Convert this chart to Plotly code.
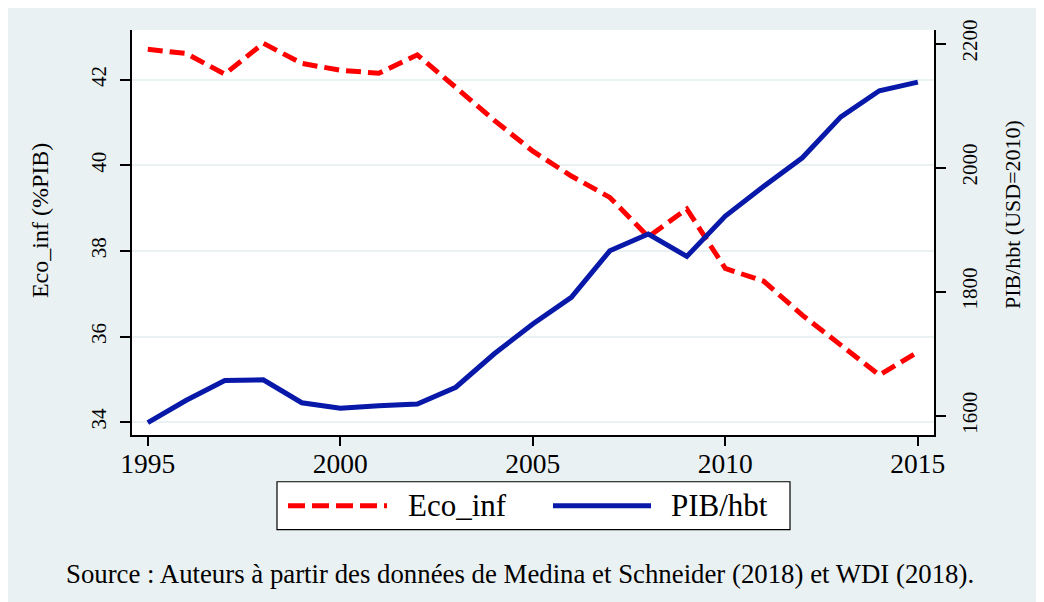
import plotly.graph_objects as go

years = list(range(1995, 2016))
eco_inf = [42.71, 42.61, 42.13, 42.85, 42.38, 42.22, 42.15, 42.58, 41.82, 41.05,
           40.33, 39.75, 39.25, 38.33, 38.98, 37.59, 37.29, 36.50, 35.80, 35.10, 35.64]
pib_hbt = [1589, 1625, 1657, 1658, 1621, 1612, 1616, 1619, 1646, 1700,
           1748, 1791, 1866, 1893, 1857, 1922, 1970, 2016, 2082, 2124, 2138]

name_eco = "Eco_inf"
name_pib = "PIB/hbt"
left_title = "Eco_inf (%PIB)"
right_title = "PIB/hbt (USD=2010)"
source_text = "Source : Auteurs à partir des données de Medina et Schneider (2018) et WDI (2018)."
left_ticks = [34, 36, 38, 40, 42]
right_ticks = [1600, 1800, 2000, 2200]
x_ticks = [1995, 2000, 2005, 2010, 2015]

RED = "#ff0000"
BLUE = "#0818a8"
BG = "#eaf1f3"
FONT = "Liberation Serif"

# the figure is placed at page offset (8, 8); coordinates below are page pixels
OFF = 8
W, H = 1044 - OFF, 602 - OFF
L, R, T, B = 132 - OFF, 934 - OFF, 28 - OFF, 435 - OFF
def px(x):
    return (x - OFF - L) / (R - L)
def py(y):
    return (B - (y - OFF)) / (B - T)

fig = go.Figure()
fig.add_trace(go.Scatter(x=years, y=eco_inf, name=name_eco, mode="lines",
                         line=dict(color=RED, width=5, dash="15px,7px"),
                         showlegend=False))
fig.add_trace(go.Scatter(x=years, y=pib_hbt, name=name_pib, mode="lines", yaxis="y2",
                         line=dict(color=BLUE, width=5),
                         showlegend=False))

shapes = [
    # legend box
    dict(type="rect", xref="paper", yref="paper", x0=px(277), x1=px(790), y0=py(530), y1=py(482),
         fillcolor="white", line=dict(color="black", width=1.2)),
    dict(type="line", xref="paper", yref="paper", x0=px(288), x1=px(387), y0=py(506), y1=py(506),
         line=dict(color=RED, width=5, dash="17px,7px")),
    dict(type="line", xref="paper", yref="paper", x0=px(553), x1=px(651), y0=py(506), y1=py(506),
         line=dict(color=BLUE, width=5)),
]

annotations = [
    dict(text=left_title, xref="paper", yref="paper", x=px(40), y=py(220), showarrow=False,
         textangle=-90, font=dict(family=FONT, size=24, color="black"),
         xanchor="center", yanchor="middle"),
    dict(text=right_title, xref="paper", yref="paper", x=px(1012), y=py(214), showarrow=False,
         textangle=-90, font=dict(family=FONT, size=22, color="black"),
         xanchor="center", yanchor="middle"),
    dict(text=name_eco, xref="paper", yref="paper", x=px(406), y=py(506), showarrow=False,
         font=dict(family=FONT, size=31, color="black"), xanchor="left", yanchor="middle"),
    dict(text=name_pib, xref="paper", yref="paper", x=px(669), y=py(506), showarrow=False,
         font=dict(family=FONT, size=31, color="black"), xanchor="left", yanchor="middle"),
    dict(text=source_text, xref="paper", yref="paper", x=px(520), y=py(575), showarrow=False,
         font=dict(family=FONT, size=26.8, color="black"), xanchor="center", yanchor="middle"),
]

fig.update_layout(
    width=W, height=H,
    margin=dict(l=L, r=W - R, t=T, b=H - B),
    paper_bgcolor=BG, plot_bgcolor="white",
    font=dict(family=FONT, color="black"),
    showlegend=False,
    shapes=shapes, annotations=annotations,
    xaxis=dict(range=[1994.59, 2015.42], tickvals=x_ticks, showgrid=False, zeroline=False,
               showline=True, linecolor="black", linewidth=1.5,
               ticks="outside", ticklen=9, tickwidth=1.5, tickcolor="black",
               tickfont=dict(family=FONT, size=27.5), ticklabelstandoff=-6),
    yaxis=dict(range=[33.70, 43.16], tickvals=left_ticks, showgrid=True, gridcolor=BG, gridwidth=2,
               zeroline=False, showline=True, linecolor="black", linewidth=1.5,
               ticks="outside", ticklen=10, tickwidth=1.5, tickcolor="black",
               tickangle=-90, tickfont=dict(family=FONT, size=21), ticklabelstandoff=6),
    yaxis2=dict(range=[1569, 2222], tickvals=right_ticks, overlaying="y", side="right",
                showgrid=False, zeroline=False, showline=True, linecolor="black", linewidth=1.5,
                ticks="outside", ticklen=10, tickwidth=1.5, tickcolor="black",
                tickangle=-90, tickfont=dict(family=FONT, size=21), ticklabelstandoff=6),
)

fig.write_html("out.html")
